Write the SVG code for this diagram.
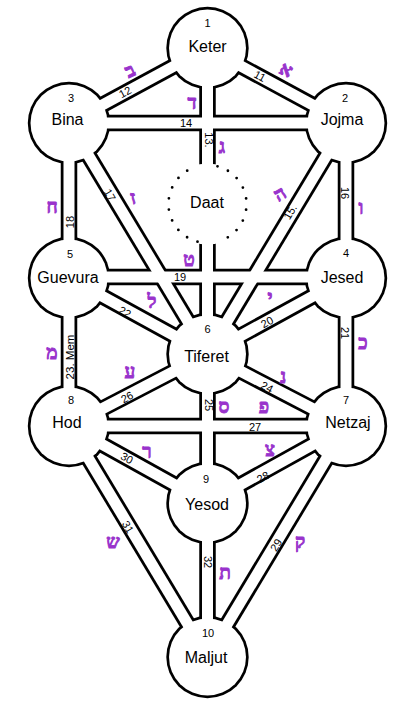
<svg xmlns="http://www.w3.org/2000/svg" width="415" height="710" viewBox="0 0 415 710">
<style>
.co{stroke:#000;stroke-width:16.5;fill:none}
.ci{stroke:#fff;stroke-width:11;fill:none}
.no{fill:#000}
.ni{fill:#fff}
.nm{font-family:"Liberation Sans",Arial,sans-serif;font-size:16px;text-anchor:middle;fill:#000}
.num{font-family:"Liberation Sans",Arial,sans-serif;font-size:11px;text-anchor:middle;fill:#000}
.heb{font-family:"Liberation Serif","DejaVu Serif",serif;font-weight:bold;font-size:19px;text-anchor:middle;fill:#9933cc;stroke:#9933cc;stroke-width:0.9}
</style>
<defs>
<g id="chs">
<line x1="207.5" y1="48" x2="346" y2="123"/>
<line x1="207.5" y1="48" x2="69" y2="123"/>
<line x1="207.5" y1="48" x2="207.5" y2="354"/>
<line x1="69" y1="123" x2="346" y2="123"/>
<line x1="346" y1="123" x2="207.5" y2="354"/>
<line x1="346" y1="123" x2="346" y2="278"/>
<line x1="69" y1="123" x2="207.5" y2="354"/>
<line x1="69" y1="123" x2="69" y2="278"/>
<line x1="69" y1="277" x2="346" y2="277"/>
<line x1="346" y1="278" x2="207.5" y2="354"/>
<line x1="346" y1="278" x2="346" y2="426"/>
<line x1="69" y1="278" x2="207.5" y2="354"/>
<line x1="69" y1="278" x2="69" y2="426"/>
<line x1="346" y1="426" x2="207.5" y2="354"/>
<line x1="207.5" y1="354" x2="207.5" y2="503"/>
<line x1="69" y1="426" x2="207.5" y2="354"/>
<line x1="69" y1="426" x2="346" y2="426"/>
<line x1="346" y1="426" x2="207.5" y2="503"/>
<line x1="346" y1="426" x2="207.5" y2="657"/>
<line x1="69" y1="426" x2="207.5" y2="503"/>
<line x1="69" y1="426" x2="207.5" y2="657"/>
<line x1="207.5" y1="503" x2="207.5" y2="657"/>
</g>
</defs>
<g id="connectors">
<use href="#chs" class="co"/>
<g id="node-outlines" class="no">
<circle cx="207.5" cy="48" r="41.2"/>
<circle cx="69" cy="123" r="41.2"/>
<circle cx="346" cy="123" r="41.2"/>
<circle cx="69" cy="278" r="41.2"/>
<circle cx="346" cy="278" r="41.2"/>
<circle cx="207.5" cy="354" r="41.2"/>
<circle cx="69" cy="426" r="41.2"/>
<circle cx="346" cy="426" r="41.2"/>
<circle cx="207.5" cy="503" r="41.2"/>
<circle cx="207.5" cy="657" r="41.2"/>
</g>
<use href="#chs" class="ci"/>
</g>
<g id="keter"><circle class="ni" cx="207.5" cy="48" r="38.5"/><text class="num" x="207.5" y="27">1</text><text class="nm" x="207.5" y="52">Keter</text></g>
<g id="jojma"><circle class="ni" cx="346" cy="123" r="38.5"/><text class="num" x="345" y="102">2</text><text class="nm" x="342" y="125">Jojma</text></g>
<g id="bina"><circle class="ni" cx="69" cy="123" r="38.5"/><text class="num" x="71" y="102">3</text><text class="nm" x="67.5" y="125">Bina</text></g>
<g id="daat"><circle class="ni" cx="207.5" cy="204" r="40.5"/><path d="M217.5,166.3 A39,39 0 0 1 217.5,241.7 M197.5,241.7 A39,39 0 0 1 197.5,166.3" fill="none" stroke="#000" stroke-width="2.8" stroke-linecap="round" stroke-dasharray="0 11.36"/><text class="nm" x="207" y="208">Daat</text></g>
<g id="jesed"><circle class="ni" cx="346" cy="278" r="38.5"/><text class="num" x="346" y="257">4</text><text class="nm" x="342" y="283">Jesed</text></g>
<g id="guevura"><circle class="ni" cx="69" cy="278" r="38.5"/><text class="num" x="70" y="258">5</text><text class="nm" x="68" y="283">Guevura</text></g>
<g id="tiferet"><circle class="ni" cx="207.5" cy="354" r="38.5"/><text class="num" x="207.5" y="333">6</text><text class="nm" x="206.5" y="362">Tiferet</text></g>
<g id="netzaj"><circle class="ni" cx="346" cy="426" r="38.5"/><text class="num" x="346" y="404">7</text><text class="nm" x="348" y="428">Netzaj</text></g>
<g id="hod"><circle class="ni" cx="69" cy="426" r="38.5"/><text class="num" x="71" y="404">8</text><text class="nm" x="67" y="428">Hod</text></g>
<g id="yesod"><circle class="ni" cx="207.5" cy="503" r="38.5"/><text class="num" x="206" y="483">9</text><text class="nm" x="207" y="510">Yesod</text></g>
<g id="maljut"><circle class="ni" cx="207.5" cy="657" r="38.5"/><text class="num" x="208" y="637">10</text><text class="nm" x="206" y="663">Maljut</text></g>
<g id="path-labels">
<text class="num" transform="translate(260,76) rotate(28.4)" dy="4">11</text>
<text class="num" transform="translate(125,92) rotate(-28.4)" dy="4">12</text>
<text class="num" transform="translate(208.5,140) rotate(90)" dy="4">13.</text>
<text class="num" x="186" y="127">14</text>
<text class="num" transform="translate(290,212) rotate(-59)" dy="4">15.</text>
<text class="num" transform="translate(345,193) rotate(90)" dy="4">16</text>
<text class="num" transform="translate(110,195) rotate(59)" dy="4">17</text>
<text class="num" transform="translate(70,222) rotate(-90)" dy="4">18</text>
<text class="num" x="180" y="281">19</text>
<text class="num" transform="translate(267,322) rotate(-28.8)" dy="4">20</text>
<text class="num" transform="translate(345,333) rotate(90)" dy="4">21</text>
<text class="num" transform="translate(125,312) rotate(28.8)" dy="4">22</text>
<text class="num" transform="translate(70,357) rotate(-90)" dy="4" style="font-size:11.5px">23. Mem</text>
<text class="num" transform="translate(267,387) rotate(27.5)" dy="4">24</text>
<text class="num" transform="translate(209,405) rotate(90)" dy="4">25</text>
<text class="num" transform="translate(127,397) rotate(-27.5)" dy="4">26</text>
<text class="num" x="255" y="431">27</text>
<text class="num" transform="translate(263,477) rotate(-29)" dy="4">28</text>
<text class="num" transform="translate(276,545) rotate(-59)" dy="4">29</text>
<text class="num" transform="translate(127,458) rotate(29)" dy="4">30</text>
<text class="num" transform="translate(128,527) rotate(59)" dy="4">31</text>
<text class="num" transform="translate(208,562) rotate(90)" dy="4">32</text>
</g>
<g id="letters" class="heb">
<text transform="translate(286,70) rotate(25)" dy="6">א</text>
<text transform="translate(130,71) rotate(-25)" dy="6">ב</text>
<text x="222" y="153">ג</text>
<text x="192" y="109">ד</text>
<text transform="translate(280,194) rotate(-30)" dy="6">ה</text>
<text x="361" y="214">ו</text>
<text transform="translate(133,198) rotate(-15)" dy="6">ז</text>
<text x="52" y="213">ח</text>
<text x="189" y="266">ט</text>
<text x="270" y="304">י</text>
<text x="363" y="349">כ</text>
<text x="152" y="308">ל</text>
<text x="52" y="359">מ</text>
<text x="283" y="383">נ</text>
<text x="224" y="413">ס</text>
<text x="130" y="378">ע</text>
<text x="264" y="413">פ</text>
<text x="270" y="456">צ</text>
<text x="300" y="548">ק</text>
<text x="147" y="458">ר</text>
<text x="113" y="548">ש</text>
<text x="225" y="579">ת</text>
</g>
</svg>
